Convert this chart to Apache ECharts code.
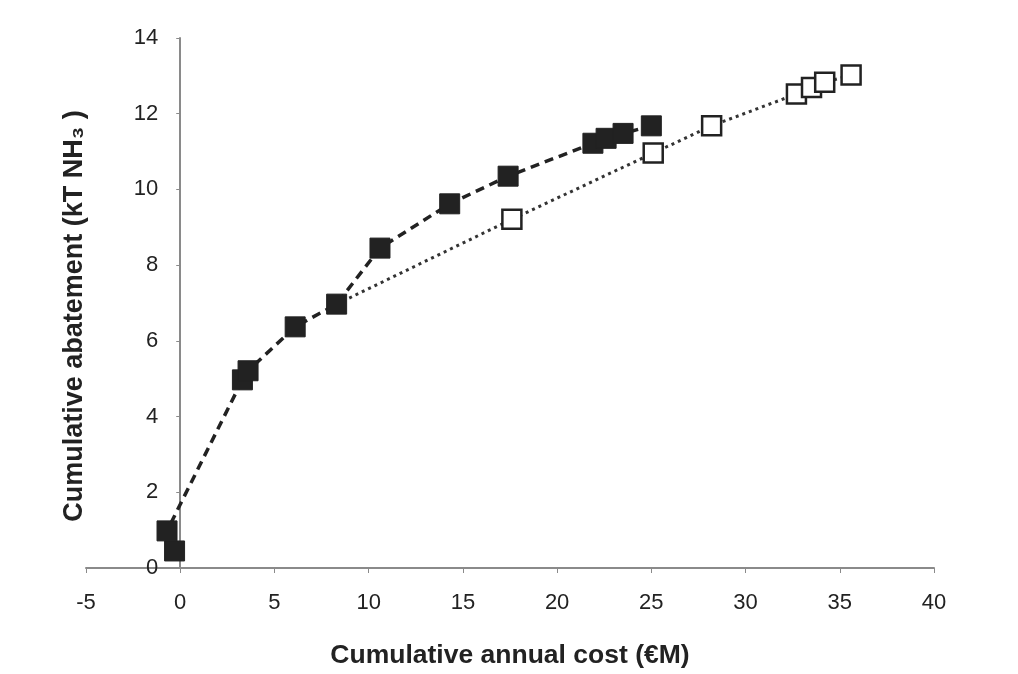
<!DOCTYPE html>
<html>
<head>
<meta charset="utf-8">
<script src="https://cdn.jsdelivr.net/npm/echarts@6/dist/echarts.min.js"></script>
<style>
  html, body { margin: 0; padding: 0; background: #fff; }
  #main { width: 1018px; height: 674px; }
</style>
</head>
<body>
<div id="main"></div>
<script>
// measures, ordered by cumulative abatement
var costA = [-0.3, -0.7, 3.3, 3.6, 6.1, 8.3, 10.6, 14.3, 17.4, 21.9, 22.6, 23.5, 25.0];
var abateA = [0.45, 0.98, 4.97, 5.21, 6.37, 6.97, 8.45, 9.62, 10.35, 11.22, 11.35, 11.48, 11.68];

// second pathway, branching off at the 8.3 point
var costB = [8.3, 17.6, 25.1, 28.2, 32.7, 33.5, 34.2, 35.6];
var abateB = [6.97, 9.21, 10.96, 11.68, 12.52, 12.69, 12.83, 13.02];

var xTicks = { min: -5, max: 40, step: 5 };
var yTicks = { min: 0, max: 14, step: 2 };

function pairs(xs, ys) {
    var out = [];
    for (var i = 0; i < xs.length; i++) out.push([xs[i], ys[i]]);
    return out;
}

var dataB = pairs(costB, abateB);
dataB[0] = { value: dataB[0], symbol: 'none' };

var myChart = echarts.init(document.getElementById('main'));
var labelFont = 'Liberation Sans, Arial, sans-serif';

// grid: x = -5 at 86px, x = 40 at 934px -> x = 0 sits 94px in from the left edge
var gridLeft = 86, gridRight = 84;
var zeroShift = (0 - xTicks.min) / (xTicks.max - xTicks.min) * (1018 - gridLeft - gridRight);

var option = {
    backgroundColor: '#fff',
    animation: false,
    grid: { left: gridLeft, right: gridRight, top: 38, bottom: 106, outerBoundsMode: 'none' },
    xAxis: {
        type: 'value',
        min: xTicks.min, max: xTicks.max, interval: xTicks.step,
        name: 'Cumulative annual cost (€M)',
        nameLocation: 'middle',
        nameGap: 74,
        nameTextStyle: { fontFamily: labelFont, fontWeight: 'bold', fontSize: 26.5, color: '#222' },
        axisLine: { lineStyle: { color: '#8a8a8a', width: 2 } },
        axisTick: { length: 5, lineStyle: { color: '#8a8a8a' } },
        axisLabel: { margin: 24, fontFamily: labelFont, fontSize: 22, color: '#222' },
        splitLine: { show: false }
    },
    yAxis: {
        type: 'value',
        min: yTicks.min, max: yTicks.max, interval: yTicks.step,
        offset: -zeroShift,
        name: 'Cumulative abatement (kT NH₃ )',
        nameLocation: 'middle',
        nameGap: 92,
        nameTextStyle: {
            fontFamily: labelFont, fontWeight: 'bold', fontSize: 27, color: '#222',
            padding: [0, 26, 0, 0]
        },
        axisLine: { onZero: false, lineStyle: { color: '#8a8a8a', width: 2 } },
        axisTick: { length: 4, lineStyle: { color: '#8a8a8a' } },
        axisLabel: { margin: 22, fontFamily: labelFont, fontSize: 22, color: '#222' },
        splitLine: { show: false }
    },
    series: [
        {
            type: 'line',
            z: 3,
            data: pairs(costA, abateA),
            symbol: 'rect',
            symbolSize: 20,
            itemStyle: { color: '#222', borderColor: '#222' },
            lineStyle: { color: '#222', width: 3.5, type: [9, 6] }
        },
        {
            type: 'line',
            z: 2,
            data: dataB,
            symbol: 'rect',
            symbolSize: 19,
            itemStyle: { color: '#fff', borderColor: '#222', borderWidth: 2.5 },
            lineStyle: { color: '#333', width: 3, type: [3, 4] }
        }
    ]
};

myChart.setOption(option);
</script>
</body>
</html>
